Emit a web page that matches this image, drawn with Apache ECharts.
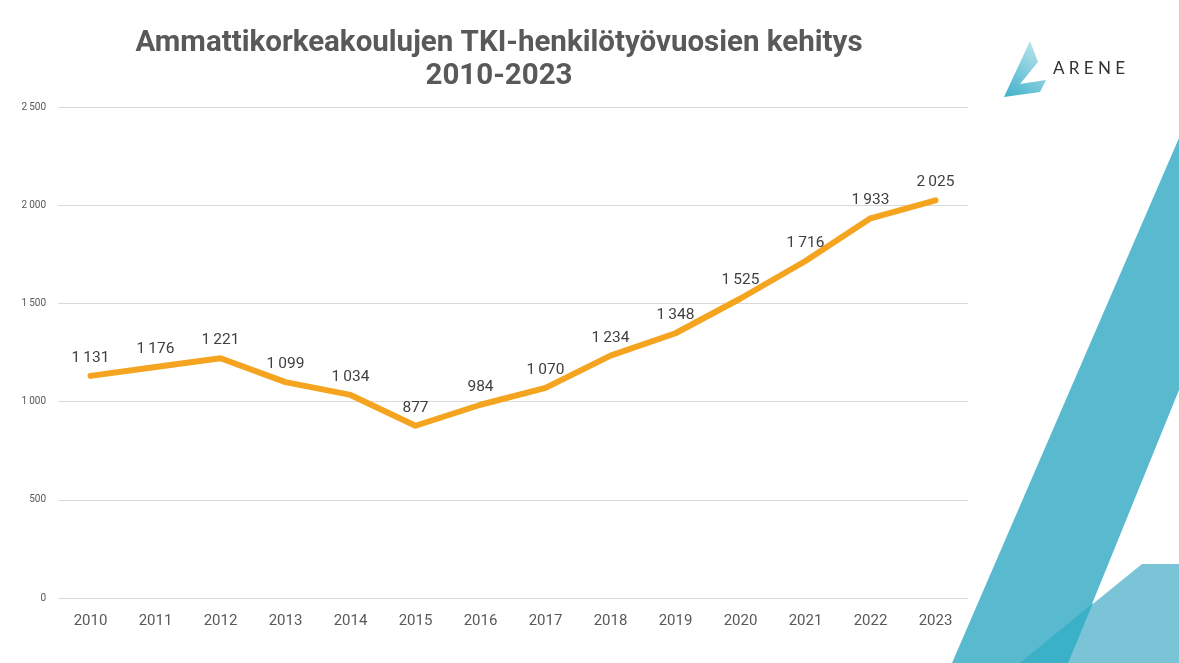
<!DOCTYPE html>
<html>
<head>
<meta charset="utf-8">
<script src="https://cdn.jsdelivr.net/npm/echarts@6/dist/echarts.min.js"></script>
<style>
  html, body { margin: 0; padding: 0; background: #fff; }
  #chart { width: 1179px; height: 663px; }
</style>
</head>
<body>
<div id="chart"></div>
<script>
const years = ['2010', '2011', '2012', '2013', '2014', '2015', '2016', '2017', '2018', '2019', '2020', '2021', '2022', '2023']
const personYears = [1131, 1176, 1221, 1099, 1034, 877, 984, 1070, 1234, 1348, 1525, 1716, 1933, 2025]
const yTicks = [0, 500, 1000, 1500, 2000, 2500]

// finnish style thousands with a thin space: "1 131"
const fmt = v => String(v).replace(/\B(?=(\d{3})+(?!\d))/g, '\u2009')

const chart = echarts.init(document.getElementById('chart'))

chart.setOption({
	backgroundColor: '#fff',
	title: {
		text: 'Ammattikorkeakoulujen TKI-henkilötyövuosien kehitys\n2010-2023',
		left: 494,
		top: 22,
		textAlign: 'center',
		textStyle: {
			fontFamily: 'Roboto',
			fontWeight: 'bold',
			fontSize: 29.5,
			lineHeight: 33,
			color: '#595959',
		},
	},
	grid: { left: 58, right: 1179 - 968, top: 107, bottom: 663 - 598, containLabel: false },
	xAxis: {
		type: 'category',
		data: years,
		boundaryGap: true,
		axisLine: { show: false },
		axisTick: { show: false },
		axisLabel: { fontFamily: 'Roboto', fontSize: 15, color: '#595959', margin: 16 },
	},
	yAxis: {
		type: 'value',
		min: yTicks[0],
		max: yTicks[yTicks.length - 1],
		interval: 500,
		axisLine: { show: false },
		axisTick: { show: false },
		splitLine: { lineStyle: { color: '#d9d9d9', width: 1 } },
		axisLabel: { fontFamily: 'Roboto', fontSize: 10, color: '#595959', margin: 12, formatter: fmt },
	},
	series: [{
		type: 'line',
		data: personYears,
		symbol: 'circle',
		symbolSize: 2,
		showSymbol: true,
		itemStyle: { color: 'rgba(244,164,31,0)', borderWidth: 0 },
		lineStyle: { color: '#F4A41F', width: 6, cap: 'round', join: 'round' },
		label: {
			show: true,
			position: 'top',
			distance: 9,
			fontFamily: 'Roboto',
			fontSize: 15.5,
			color: '#404040',
			formatter: p => fmt(p.value),
		},
		emphasis: { disabled: true },
		z: 3,
	}],
	graphic: [
		// decorative shapes bottom right
		{
			type: 'polygon', z: -1,
			shape: { points: [[952, 663], [1179, 138], [1179, 390], [1068, 663]] },
			style: { fill: '#58b9cf' },
		},
		{
			type: 'polygon', z: -1,
			shape: { points: [[1142, 564], [1179, 564], [1179, 663], [1020, 663]] },
			style: { fill: 'rgba(100,185,208,0.85)' },
		},
		{
			type: 'polygon', z: 0,
			shape: { points: [[1093, 603], [1068, 663], [1020, 663]] },
			style: { fill: '#3bb1c8' },
		},
		// logo
		{
			type: 'polygon',
			shape: { points: [[1030, 41], [1038, 62], [1020, 84], [1046, 80], [1040, 92], [1004, 97]] },
			style: {
				fill: new echarts.graphic.LinearGradient(0, 1, 1, 0, [
					{ offset: 0, color: '#3fb0c9' },
					{ offset: 1, color: '#c9eaf1' },
				]),
			},
		},
		{
			type: 'text',
			left: 1053,
			top: 60,
			style: {
				text: 'A R E N E',
				fontFamily: 'Lato',
				fontSize: 17,
				fill: '#333',
			},
		},
	],
})
</script>
</body>
</html>
